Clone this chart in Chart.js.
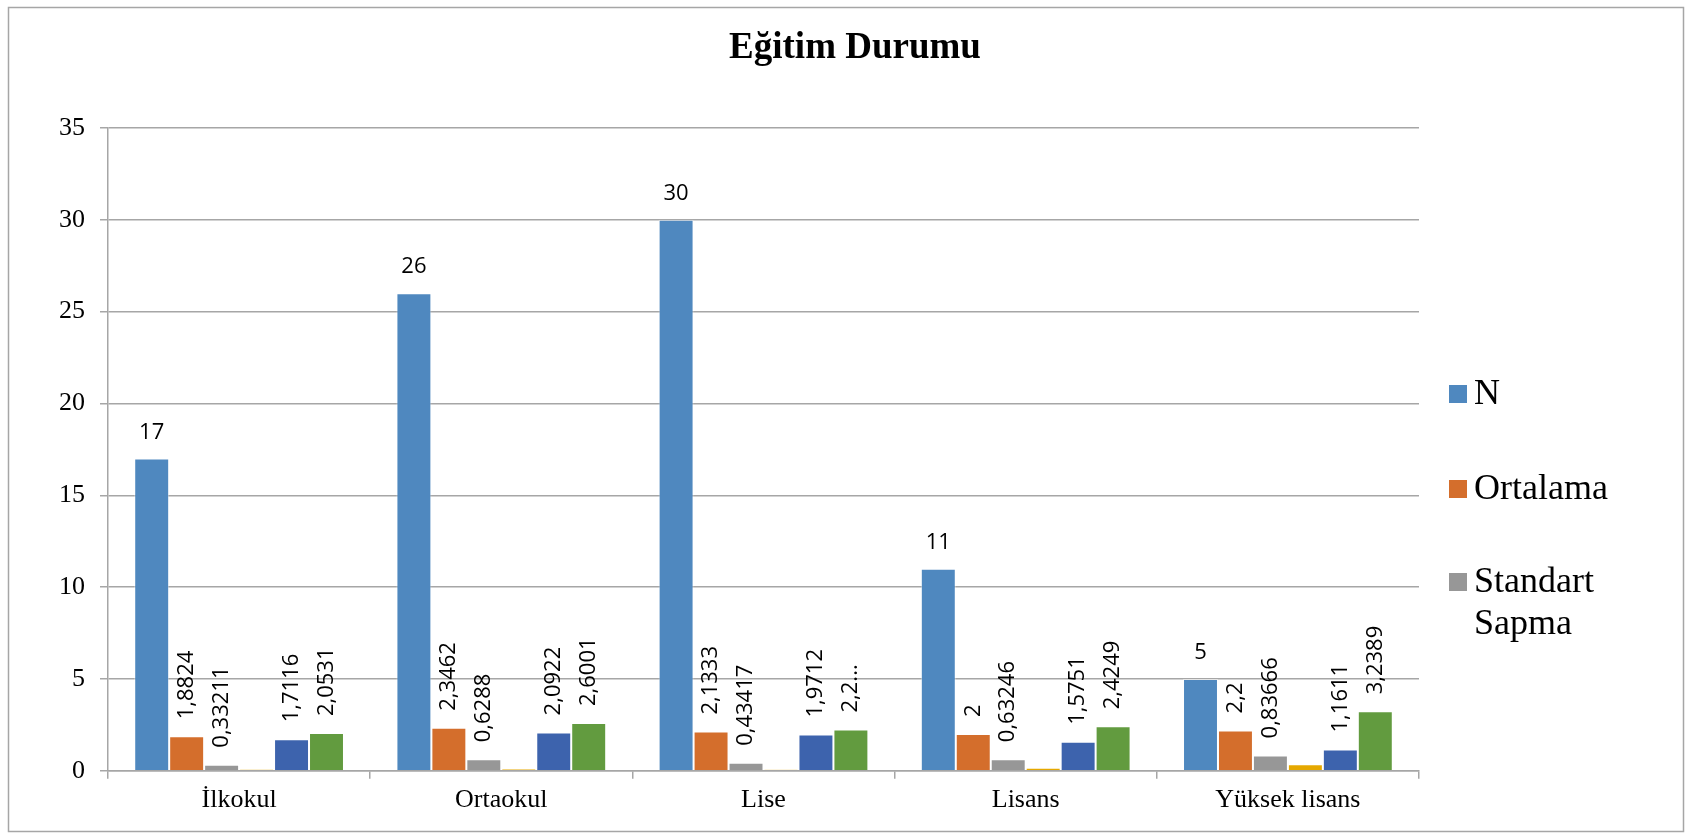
<!DOCTYPE html>
<html>
<head>
<meta charset="utf-8">
<script src="https://cdn.jsdelivr.net/npm/chart.js@4"></script>
<style>
  html, body { margin: 0; padding: 0; background: #fff; }
  #wrap { width: 1686px; height: 833px; position: relative; }
</style>
</head>
<body>
<div id="wrap"><canvas id="egitimChart"></canvas></div>
<script>
const kategoriler = ['İlkokul', 'Ortaokul', 'Lise', 'Lisans', 'Yüksek lisans'];
const nDegerleri = [17, 26, 30, 11, 5];
const ortalamaDegerleri = [1.8824, 2.3462, 2.1333, 2, 2.2];
const sapmaDegerleri = [0.33211, 0.6288, 0.43417, 0.63246, 0.83666];
const sariDegerler = [0.08, 0.1, 0.07, 0.17, 0.35];
const laciDegerler = [1.7116, 2.0922, 1.9712, 1.5751, 1.1611];
const yesilDegerler = [2.0531, 2.6001, 2.25, 2.4249, 3.2389];
const yesilKisaltma = [null, null, '2,2...', null, null];
const yTikleri = [0, 5, 10, 15, 20, 25, 30, 35];

const serif = '"Liberation Serif", "Times New Roman", serif';
const sans = '"Open Sans", "Noto Sans", sans-serif';

// etiketler: N yatay, digerleri dikey
const etiketEklentisi = {
  id: 'etiketler',
  afterDatasetsDraw(chart) {
    const ctx = chart.ctx;
    ctx.save();
    ctx.fillStyle = '#000';
    ctx.font = '22px ' + sans;
    chart.data.datasets.forEach((ds, i) => {
      if (ds.etiketYok) return;
      const meta = chart.getDatasetMeta(i);
      meta.data.forEach((bar, j) => {
        let txt = String(ds.data[j]).replace('.', ',');
        if (ds.kisaltma && ds.kisaltma[j]) txt = ds.kisaltma[j];
        if (i === 0) {
          ctx.textAlign = 'center';
          ctx.textBaseline = 'alphabetic';
          ctx.fillText(txt, bar.x, bar.y - 20);
        } else {
          ctx.save();
          ctx.translate(bar.x, bar.y - 17);
          ctx.rotate(-Math.PI / 2);
          ctx.textAlign = 'left';
          ctx.textBaseline = 'middle';
          ctx.fillText(txt, 0, 0);
          ctx.restore();
        }
      });
    });
    ctx.restore();
  }
};

// baslik, sag taraftaki lejant ve cerceve
const lejantEklentisi = {
  id: 'lejant',
  beforeDraw(chart) {
    const ctx = chart.ctx;
    ctx.save();
    ctx.fillStyle = '#fff';
    ctx.fillRect(0, 0, chart.width, chart.height);
    ctx.strokeStyle = '#a6a6a6';
    ctx.lineWidth = 1.5;
    ctx.strokeRect(8.5, 7.5, 1675, 824);
    ctx.restore();
  },
  afterDraw(chart) {
    const ctx = chart.ctx;
    ctx.save();
    ctx.fillStyle = '#000';
    ctx.font = 'bold 37px ' + serif;
    ctx.textAlign = 'center';
    ctx.textBaseline = 'middle';
    ctx.fillText('Eğitim Durumu', 855, 48);

    const ogeler = [
      { renk: chart.data.datasets[0].backgroundColor, satir: ['N'], y: 395 },
      { renk: chart.data.datasets[1].backgroundColor, satir: ['Ortalama'], y: 490 },
      { renk: chart.data.datasets[2].backgroundColor, satir: ['Standart', 'Sapma'], y: 583 }
    ];
    ctx.font = '36px ' + serif;
    ctx.textAlign = 'left';
    ogeler.forEach(o => {
      ctx.fillStyle = o.renk;
      ctx.fillRect(1449, o.y - 10, 18, 18);
      ctx.fillStyle = '#000';
      o.satir.forEach((s, k) => ctx.fillText(s, 1474, o.y + k * 42));
    });
    ctx.restore();
  }
};

const veriSetleri = [
  { label: 'N', data: nDegerleri, backgroundColor: '#4f88bf' },
  { label: 'Ortalama', data: ortalamaDegerleri, backgroundColor: '#d46e2c' },
  { label: 'Standart Sapma', data: sapmaDegerleri, backgroundColor: '#979797' },
  { label: '', data: sariDegerler, backgroundColor: '#e5a800', etiketYok: true },
  { label: '', data: laciDegerler, backgroundColor: '#3d63ad' },
  { label: '', data: yesilDegerler, backgroundColor: '#629b3f', kisaltma: yesilKisaltma }
].map(d => Object.assign(d, { borderWidth: 1, borderColor: 'rgba(255,255,255,0.45)' }));

new Chart(document.getElementById('egitimChart'), {
  type: 'bar',
  data: { labels: kategoriler, datasets: veriSetleri },
  options: {
    responsive: true,
    maintainAspectRatio: false,
    animation: false,
    categoryPercentage: 0.8,
    barPercentage: 1,
    layout: { padding: { left: 30, right: 267, top: 128, bottom: 11 } },
    scales: {
      x: {
        grid: { drawOnChartArea: false, drawTicks: true, tickLength: 8, color: '#a6a6a6', lineWidth: 1.5 },
        border: { color: '#a6a6a6', width: 1.5 },
        ticks: { color: '#000', font: { family: serif, size: 26 }, padding: 6 }
      },
      y: {
        min: 0,
        max: 35,
        afterBuildTicks(scale) { scale.ticks = yTikleri.map(v => ({ value: v })); },
        afterFit(scale) { scale.width = 78; },
        grid: { color: '#a6a6a6', lineWidth: 1.5, tickLength: 8 },
        border: { color: '#a6a6a6', width: 1.5 },
        ticks: { color: '#000', font: { family: serif, size: 26 }, padding: 15 }
      }
    },
    plugins: {
      legend: { display: false },
      tooltip: { enabled: false },
      title: { display: false }
    }
  },
  plugins: [lejantEklentisi, etiketEklentisi]
});
</script>
</body>
</html>
